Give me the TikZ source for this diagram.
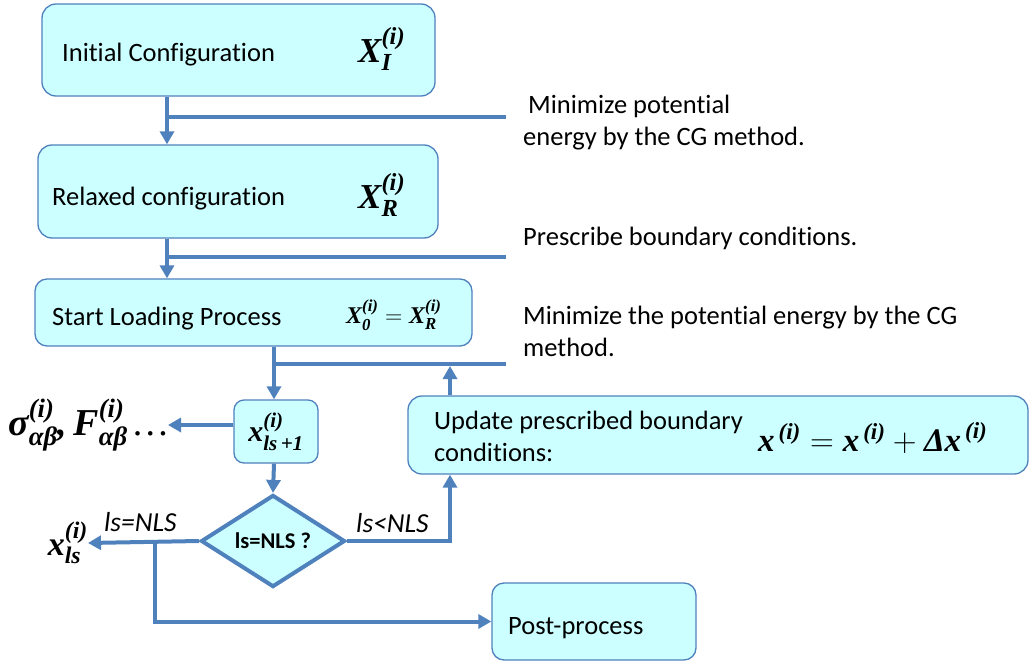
\RequirePackage{fix-cm}
\documentclass[tikz,border=0pt]{standalone}
\usepackage{amsmath}
\usepackage{fontspec}
\setmainfont{Carlito}[Ligatures=NoCommon]
\newfontfamily\tmsfont{Liberation Serif}
\usepackage{tikz}
\usetikzlibrary{arrows.meta,positioning,calc,shapes.geometric}
\definecolor{boxfill}{RGB}{204,255,255}
\definecolor{lineblue}{RGB}{79,129,189}
\newcommand{\bix}[1]{\text{\tmsfont\bfseries\itshape #1}}

\begin{document}
\begin{tikzpicture}[
  x=1pt, y=-1pt,
  procbox/.style={draw=lineblue, fill=boxfill, line width=1.3pt, rounded corners=14pt, inner sep=0pt},
  decide/.style={diamond, draw=lineblue, fill=boxfill, line width=4pt, inner sep=0pt, minimum width=144pt, minimum height=82pt},
  flow/.style={draw=lineblue, line width=4pt, -{Triangle[length=13pt,width=14pt]}},
  bar/.style={draw=lineblue, line width=4pt},
  txt/.style={font=\fontsize{26.5}{32}\selectfont, inner sep=0pt, align=left},
  mth/.style={inner sep=0pt},
  cond/.style={font=\fontsize{27.5}{32}\selectfont\itshape, inner sep=0pt}
]
  \useasboundingbox (0,0) rectangle (1030,661);

  % columns and free ends of the side bars
  \coordinate (colA) at (167,0);
  \coordinate (colB) at (274,0);
  \coordinate (colC) at (450,0);
  \coordinate (colD) at (155,0);
  \coordinate (rimA) at (506,117);
  \coordinate (rimB) at (506,257);
  \coordinate (rimC) at (506,364);

  % boxes
  \node[procbox, minimum width=393pt, minimum height=92pt] (init) at (238.5,50) {};
  \node[procbox, minimum width=400pt, minimum height=93pt] (relax) at (238,191.5) {};
  \node[procbox, rounded corners=12pt, minimum width=437pt, minimum height=67pt] (load) at (253.5,312.5) {};
  \node[procbox, rounded corners=10pt, minimum width=84pt, minimum height=63pt, font=\fontsize{30}{34}\selectfont] (step) at (276,431.5) {$\bix{x}^{\bix{(i)}}_{\bix{ls\,+1}}$};
  \node[procbox, minimum width=620pt, minimum height=78pt] (upd) at (718,435) {};
  \node[procbox, rounded corners=12pt, minimum width=204pt, minimum height=77pt] (post) at (594,621.5) {};
  \node[decide] (check) at (273,541) {\fontsize{22.5}{26}\selectfont\bfseries ls=NLS ?};

  % texts in the boxes
  \node[txt, anchor=base west] (initT) at (62,61) {Initial Configuration};
  \node[mth, anchor=west, font=\fontsize{35}{40}\selectfont] (initX) at (358,49) {$\bix{X}^{\bix{(i)}}_{\bix{I}}$};
  \node[txt, anchor=base west] (relaxT) at (52,205) {Relaxed configuration};
  \node[mth, anchor=west, font=\fontsize{35}{40}\selectfont] (relaxX) at (358,195) {$\bix{X}^{\bix{(i)}}_{\bix{R}}$};
  \node[txt, anchor=base west] (loadT) at (52,325) {Start Loading Process};
  \node[mth, anchor=west, font=\fontsize{24}{28}\selectfont] (loadX) at (346,315) {$\bix{X}^{\bix{(i)}}_{\bix{0}} = \bix{X}^{\bix{(i)}}_{\bix{R}}$};
  \node[txt, anchor=north west] (updT) at (434,411) {Update prescribed boundary\\conditions:};
  \node[mth, anchor=west, font=\fontsize{33}{38}\selectfont] (updX) at (758,438) {$\bix{x}^{\,\bix{(i)}} = \bix{x}^{\,\bix{(i)}} + \bix{Δx}^{\,\bix{(i)}}$};
  \node[txt, anchor=base west] (postT) at (508,634) {Post-process};

  % outputs
  \node[mth, anchor=east, font=\fontsize{38}{44}\selectfont] (stress) at (168,425) {$\bix{σ}^{\bix{(i)}}_{\bix{αβ}}\bix{,}\,\bix{F}^{\bix{(i)}}_{\bix{αβ}}\,\text{\tmsfont\itshape\ldots}$};
  \node[mth, anchor=east, font=\fontsize{34}{40}\selectfont] (final) at (88,543) {$\bix{x}^{\bix{(i)}}_{\bix{ls}}$};

  % side notes
  \node[txt, anchor=north west] (cgA) at (523,95) {\hspace{5pt}Minimize potential\\energy by the CG method.};
  \node[txt, anchor=base west] (bcA) at (523,245) {Prescribe boundary conditions.};
  \node[txt, anchor=north west] (cgB) at (523,306) {Minimize the potential energy by the CG\\method.};

  % main flow
  \draw[flow] (init.south -| colA) -- (relax.north -| colA);
  \draw[bar] (rimA) -- (rimA -| colA);
  \draw[flow] (relax.south -| colA) -- (load.north -| colA);
  \draw[bar] (rimB) -- (rimB -| colA);
  \draw[flow] (load.south -| colB) -- (step.north -| colB);
  \draw[bar] (rimC) -- (rimC -| colB);
  \draw[flow] (upd.north -| colC) -- ($(rimC -| colC)+(0,2)$);
  \draw[flow] (step.west |- stress.east) -- (stress.east);
  \draw[flow] (step.south -| colB) -- (check.north);

  % branches of the check
  \draw[flow] (check.west) -- (final.east);
  \node[cond, anchor=base west] (yesT) at (104,531) {ls=NLS};
  \draw[flow] (check.west -| colD) -- (colD |- post.west) -- (post.west);
  \draw[flow] (check.east) -- (check.east -| colC) -- (upd.south -| colC);
  \node[cond, anchor=base west] (noT) at (356,532) {ls<NLS};
\end{tikzpicture}
\end{document}
